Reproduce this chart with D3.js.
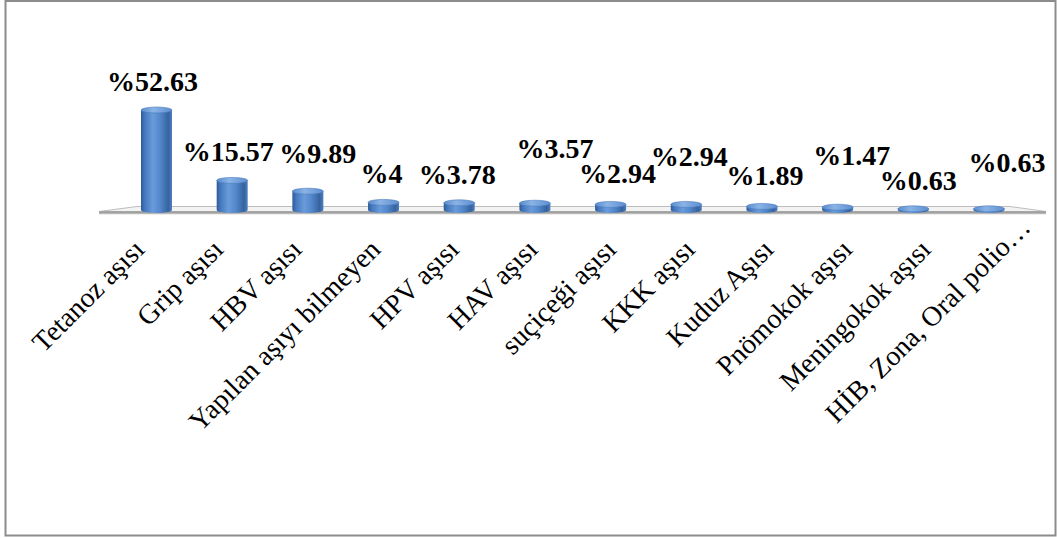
<!DOCTYPE html>
<html>
<head>
<meta charset="utf-8">
<script src="https://cdn.jsdelivr.net/npm/d3@7/dist/d3.min.js"></script>
<style>
  html, body { margin: 0; padding: 0; background: #fff; }
  svg { display: block; }
</style>
</head>
<body>
<svg id="chart" width="1057" height="538"></svg>
<script>
// Vaccines received (share of respondents, %)
const categories = [
  "Tetanoz aşısı", "Grip aşısı", "HBV aşısı", "Yapılan aşıyı bilmeyen",
  "HPV aşısı", "HAV aşısı", "suçiçeği aşısı", "KKK aşısı",
  "Kuduz Aşısı", "Pnömokok aşısı", "Meningokok aşısı", "HİB, Zona, Oral polio…"
];
const values = [52.63, 15.57, 9.89, 4, 3.78, 3.57, 2.94, 2.94, 1.89, 1.47, 0.63, 0.63];
const valuePrefix = "%";

// Label placement tweaks (keeps crowded data labels apart)
const labelDx   = [-4, -4, 10, -2, -2, 20, 7, 3, 3, 14, 5, 18];
const labelLift = [0, 0, 9, 0, 0, 26, 2, 19, 2, 23, 0, 18];

const svg = d3.select("#chart");
const W = 1057, H = 538;

// outer frame
svg.append("rect")
  .attr("x", 5.5).attr("y", 1).attr("width", 1050).attr("height", 534.5)
  .attr("fill", "#fff").attr("stroke", "#8c8c8c").attr("stroke-width", 2);

const baseY = 210;
const x = d3.scalePoint().domain(categories).range([156.5, 989]);
const xLab = d3.scalePoint().domain(categories).range([146, 1011]);
const y = d3.scaleLinear().domain([0, 60]).range([baseY, baseY - 114]);

const defs = svg.append("defs");
const bodyGrad = defs.append("linearGradient").attr("id", "cyl")
  .attr("x1", "0%").attr("x2", "100%").attr("y1", "0%").attr("y2", "0%");
[[0, "#2f5a97"], [0.12, "#4478bd"], [0.38, "#6a9bdb"], [0.62, "#5287cb"],
 [0.88, "#36639f"], [1, "#4f7fbf"]].forEach(([o, c]) =>
  bodyGrad.append("stop").attr("offset", o).attr("stop-color", c));
const capGrad = defs.append("linearGradient").attr("id", "cap")
  .attr("x1", "0%").attr("x2", "100%");
[[0, "#5a8ccd"], [0.4, "#8ab3e6"], [1, "#5d8ecf"]].forEach(([o, c]) =>
  capGrad.append("stop").attr("offset", o).attr("stop-color", c));
const floorGrad = defs.append("linearGradient").attr("id", "floorFront")
  .attr("x1", "0").attr("x2", "0").attr("y1", "0").attr("y2", "1");
[[0, "#8f8f8f"], [0.5, "#a8a8a8"], [1, "#dcdcdc"]].forEach(([o, c]) =>
  floorGrad.append("stop").attr("offset", o).attr("stop-color", c));

// floor of the 3-D plot area
const floor = svg.append("g");
floor.append("polygon")
  .attr("points", "99,211.5 137,206.5 1010,206.5 1046,211.5")
  .attr("fill", "#f3f3f3").attr("stroke", "#bdbdbd").attr("stroke-width", 1);
floor.append("polygon")
  .attr("points", "99,211.5 1046,211.5 1046,214.5 99,214.5")
  .attr("fill", "url(#floorFront)");

// cylinders
const bw = 31, ry = 3;
const bars = svg.append("g").selectAll("g").data(categories).join("g");
bars.append("path")
  .attr("d", (d, i) => {
    const cx = x(d), top = y(values[i]), l = cx - bw / 2, r = cx + bw / 2;
    return `M${l},${top} L${l},${baseY} A${bw / 2},${ry} 0 0 0 ${r},${baseY} L${r},${top} Z`;
  })
  .attr("fill", "url(#cyl)");
bars.append("ellipse")
  .attr("cx", d => x(d)).attr("cy", (d, i) => y(values[i]))
  .attr("rx", bw / 2).attr("ry", ry)
  .attr("fill", "url(#cap)").attr("stroke", "#4a7bbd").attr("stroke-width", 0.6);

// value labels
svg.append("g").selectAll("text").data(categories).join("text")
  .attr("x", (d, i) => x(d) + labelDx[i])
  .attr("y", (d, i) => y(values[i]) - 19 - labelLift[i])
  .attr("text-anchor", "middle")
  .attr("font-family", "'Liberation Serif', 'Times New Roman', serif")
  .attr("font-weight", "bold").attr("font-size", 28).attr("fill", "#000")
  .text((d, i) => valuePrefix + values[i]);

// category labels, rotated
svg.append("g").selectAll("text").data(categories).join("text")
  .attr("transform", (d, i) => {
    let px = xLab(d), py = 251;
    if (d.endsWith("…")) { px += 21; py -= 22; }
    return `translate(${px},${py}) rotate(-45)`;
  })
  .attr("text-anchor", "end")
  .attr("font-family", "'Liberation Serif', 'Times New Roman', serif")
  .attr("font-size", 28).attr("fill", "#000")
  .text(d => d);
</script>
</body>
</html>
